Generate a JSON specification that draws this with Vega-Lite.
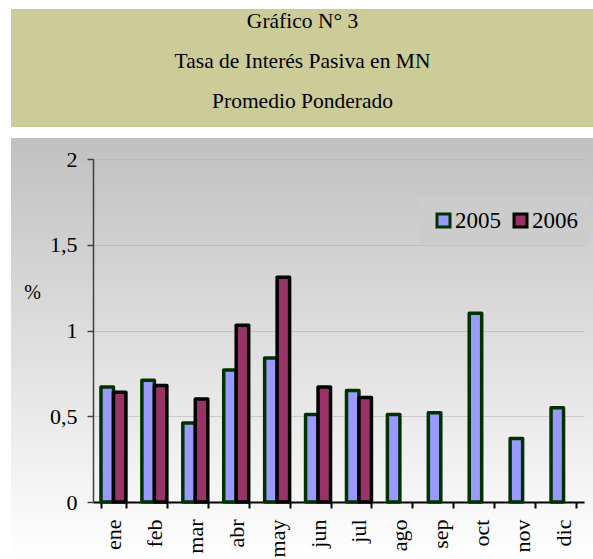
{
  "$schema": "https://vega.github.io/schema/vega-lite/v6.json",
  "padding": {"left": 0, "top": 9, "right": 0, "bottom": 0},
  "background": "#ffffff",
  "spacing": 11,
  "config": {
    "font": "Liberation Serif",
    "view": {"stroke": null}
  },
  "vconcat": [
    {
      "width": 583,
      "height": 118,
      "view": {"fill": "#cccc99", "stroke": null},
      "data": {
        "values": [
          {"line": 1, "text": "Gráfico N° 3"},
          {"line": 2, "text": "Tasa de Interés Pasiva en MN"},
          {"line": 3, "text": "Promedio Ponderado"}
        ]
      },
      "mark": {"type": "text", "font": "Liberation Serif", "fontSize": 21.5, "color": "#000000", "baseline": "alphabetic", "align": "center"},
      "encoding": {
        "y": {"field": "line", "type": "ordinal", "axis": null, "scale": {"type": "point", "padding": 0.49}},
        "text": {"field": "text", "type": "nominal"}
      }
    },
    {
      "width": 583,
      "height": 421,
      "view": {
        "stroke": null,
        "fill": {
          "gradient": "linear",
          "x1": 0, "y1": 0, "x2": 0, "y2": 1,
          "stops": [
            {"offset": 0, "color": "#c0c0c0"},
            {"offset": 1, "color": "#ffffff"}
          ]
        }
      },
      "data": {
        "values": [
          {"month": "ene", "year": "2005", "value": 0.67},
          {"month": "feb", "year": "2005", "value": 0.71},
          {"month": "mar", "year": "2005", "value": 0.46},
          {"month": "abr", "year": "2005", "value": 0.77},
          {"month": "may", "year": "2005", "value": 0.84},
          {"month": "jun", "year": "2005", "value": 0.51},
          {"month": "jul", "year": "2005", "value": 0.65},
          {"month": "ago", "year": "2005", "value": 0.51},
          {"month": "sep", "year": "2005", "value": 0.52},
          {"month": "oct", "year": "2005", "value": 1.10},
          {"month": "nov", "year": "2005", "value": 0.37},
          {"month": "dic", "year": "2005", "value": 0.55},
          {"month": "ene", "year": "2006", "value": 0.64},
          {"month": "feb", "year": "2006", "value": 0.68},
          {"month": "mar", "year": "2006", "value": 0.60},
          {"month": "abr", "year": "2006", "value": 1.03},
          {"month": "may", "year": "2006", "value": 1.31},
          {"month": "jun", "year": "2006", "value": 0.67},
          {"month": "jul", "year": "2006", "value": 0.61}
        ]
      },
      "mark": {"type": "bar", "strokeWidth": 3.5, "strokeJoin": "round"},
      "encoding": {
        "x": {
          "field": "month",
          "type": "nominal",
          "sort": ["ene", "feb", "mar", "abr", "may", "jun", "jul", "ago", "sep", "oct", "nov", "dic"],
          "scale": {
            "domain": ["ene", "feb", "mar", "abr", "may", "jun", "jul", "ago", "sep", "oct", "nov", "dic"],
            "range": [82, 573],
            "paddingInner": 0.39,
            "paddingOuter": 0.195
          },
          "axis": {
            "title": null,
            "orient": "bottom",
            "offset": -57,
            "grid": false,
            "domainColor": "#000000",
            "domainWidth": 2,
            "tickColor": "#000000",
            "tickWidth": 2,
            "tickSize": 6,
            "tickBand": "extent",
            "labelAngle": -90,
            "labelAlign": "right",
            "labelBaseline": "middle",
            "labelPadding": 11,
            "labelFont": "Liberation Serif",
            "labelFontSize": 22,
            "labelColor": "#000000"
          }
        },
        "xOffset": {
          "field": "year",
          "type": "nominal",
          "scale": {"domain": ["2005", "2006"], "paddingInner": 0, "paddingOuter": 0}
        },
        "y": {
          "field": "value",
          "type": "quantitative",
          "scale": {"domain": [0, 2], "range": [364, 21], "nice": false, "zero": true},
          "axis": {
            "title": "%",
            "titleAngle": 0,
            "titleX": -61,
            "titleY": 154,
            "titleAlign": "center",
            "titleBaseline": "middle",
            "titleFont": "Liberation Serif",
            "titleFontSize": 20,
            "titleFontWeight": "normal",
            "titleColor": "#000000",
            "orient": "left",
            "offset": -82,
            "values": [0, 0.5, 1, 1.5, 2],
            "labelExpr": "replace(format(datum.value, '~g'), '.', ',')",
            "labelFont": "Liberation Serif",
            "labelFontSize": 22,
            "labelColor": "#000000",
            "labelPadding": 10,
            "domainColor": "#404040",
            "domainWidth": 1.5,
            "tickColor": "#404040",
            "tickWidth": 1.5,
            "tickSize": 6,
            "grid": true,
            "gridColor": "#b4b4b4",
            "gridOpacity": 0.6,
            "gridWidth": 1
          }
        },
        "fill": {
          "field": "year",
          "type": "nominal",
          "scale": {"domain": ["2005", "2006"], "range": ["#9999ff", "#993366"]},
          "legend": {
            "title": null,
            "orient": "none",
            "legendX": 409,
            "legendY": 188,
            "direction": "horizontal",
            "symbolType": "square",
            "symbolSize": 169,
            "symbolStrokeWidth": 3,
            "labelFont": "Liberation Serif",
            "labelFontSize": 23,
            "labelColor": "#000000",
            "labelOffset": 0,
            "columnPadding": 7,
            "padding": 12,
            "fillColor": "#cccccc",
            "strokeColor": null
          }
        },
        "stroke": {
          "field": "year",
          "type": "nominal",
          "scale": {"domain": ["2005", "2006"], "range": ["#003300", "#000000"]},
          "legend": {
            "title": null,
            "orient": "none",
            "legendX": 409,
            "legendY": 188,
            "direction": "horizontal",
            "symbolType": "square",
            "symbolSize": 169,
            "symbolStrokeWidth": 3,
            "labelFont": "Liberation Serif",
            "labelFontSize": 23,
            "labelColor": "#000000",
            "labelOffset": 0,
            "columnPadding": 7,
            "padding": 12,
            "fillColor": "#cccccc",
            "strokeColor": null
          }
        }
      }
    }
  ]
}
